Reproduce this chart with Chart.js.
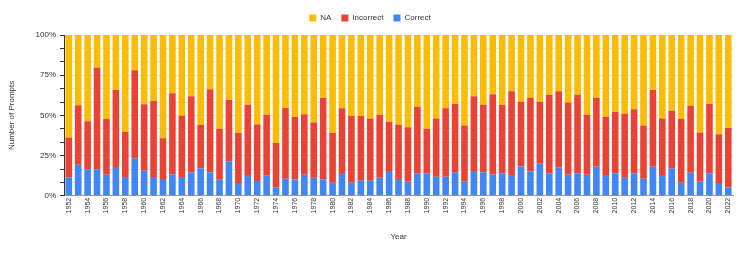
<!DOCTYPE html>
<html>
<head>
<meta charset="utf-8">
<script src="https://cdn.jsdelivr.net/npm/chart.js@4"></script>
<style>
  html, body { margin: 0; padding: 0; background: #fff; }
  #wrap { width: 747px; height: 253px; }
</style>
</head>
<body>
<div id="wrap"><canvas id="chart"></canvas></div>
<script>
// years 1952..2022
const years = [
  '1952','1953','1954','1955','1956','1957','1958','1959','1960','1961',
  '1962','1963','1964','1965','1966','1967','1968','1969','1970','1971',
  '1972','1973','1974','1975','1976','1977','1978','1979','1980','1981',
  '1982','1983','1984','1985','1986','1987','1988','1989','1990','1991',
  '1992','1993','1994','1995','1996','1997','1998','1999','2000','2001',
  '2002','2003','2004','2005','2006','2007','2008','2009','2010','2011',
  '2012','2013','2014','2015','2016','2017','2018','2019','2020','2021',
  '2022'
];

// share of prompts, in %
const correct = [
  11.5, 19.4, 16.5, 16.5, 13.1, 17.9, 11.7, 23.3, 15.6, 11.7,
  10.4, 13.3, 11.7, 14.6, 17.1, 14.6, 10.0, 21.5, 7.9, 12.9,
  9.2, 12.5, 5.2, 10.6, 10.2, 13.1, 11.3, 10.2, 8.1, 14.2,
  8.1, 9.4, 9.4, 11.3, 15.4, 10.4, 8.8, 14.0, 14.0, 11.9,
  11.9, 14.6, 8.8, 15.4, 14.6, 13.3, 14.0, 12.9, 18.3, 15.2,
  20.0, 14.0, 17.7, 13.1, 14.0, 13.1, 18.1, 12.9, 14.0, 11.3,
  14.0, 10.6, 18.1, 12.9, 17.1, 8.1, 14.4, 8.8, 14.0, 7.9,
  5.2
];

const incorrect = [
  24.8, 36.9, 29.8, 63.3, 34.6, 47.9, 28.1, 54.8, 41.3, 47.3,
  25.4, 50.5, 38.1, 47.3, 26.9, 51.7, 31.7, 38.3, 31.3, 43.8,
  35.2, 37.9, 27.7, 44.0, 38.8, 37.7, 34.3, 50.8, 31.1, 40.2,
  41.5, 40.2, 38.7, 39.1, 30.6, 33.8, 33.9, 41.2, 27.7, 36.2,
  42.5, 42.7, 35.0, 46.5, 42.1, 49.8, 42.7, 52.1, 40.2, 45.8,
  38.5, 48.9, 47.3, 45.0, 48.9, 37.3, 42.7, 36.3, 38.1, 39.7,
  39.8, 33.2, 47.7, 35.2, 35.8, 39.6, 41.6, 30.6, 43.3, 30.4,
  36.9
];

const na = [
  63.7, 43.7, 53.7, 20.2, 52.3, 34.2, 60.2, 21.9, 43.1, 41.0,
  64.2, 36.2, 50.2, 38.1, 56.0, 33.7, 58.3, 40.2, 60.8, 43.3,
  55.6, 49.6, 67.1, 45.4, 51.0, 49.2, 54.4, 39.0, 60.8, 45.6,
  50.4, 50.4, 51.9, 49.6, 54.0, 55.8, 57.3, 44.8, 58.3, 51.9,
  45.6, 42.7, 56.2, 38.1, 43.3, 36.9, 43.3, 35.0, 41.5, 39.0,
  41.5, 37.1, 35.0, 41.9, 37.1, 49.6, 39.2, 50.8, 47.9, 49.0,
  46.2, 56.2, 34.2, 51.9, 47.1, 52.3, 44.0, 60.6, 42.7, 61.7,
  57.9
];

const COLORS = {
  correct:   '#4285F4',
  incorrect: '#EA4335',
  na:        '#FBBC04',
};

const FONT = { family: '"Liberation Sans", Arial, sans-serif', size: 8 };
const XFONT = { family: FONT.family, size: 7 };

Chart.defaults.font.family = FONT.family;
Chart.defaults.font.size = 8;
Chart.defaults.color = '#333';

// a little extra room under the legend
const legendGap = {
  id: 'legendGap',
  beforeInit(chart) {
    const fit = chart.legend.fit;
    chart.legend.fit = function () {
      fit.bind(chart.legend)();
      this.height += 3;
    };
  },
};

const ctx = document.getElementById('chart').getContext('2d');

const barStyle = { barPercentage: 0.7, categoryPercentage: 1.0, borderWidth: 0 };

new Chart(ctx, {
  type: 'bar',
  data: {
    labels: years,
    datasets: [
      { label: 'Correct',   data: correct,   backgroundColor: COLORS.correct,   ...barStyle },
      { label: 'Incorrect', data: incorrect, backgroundColor: COLORS.incorrect, ...barStyle },
      { label: 'NA',        data: na,        backgroundColor: COLORS.na,        ...barStyle },
    ]
  },
  plugins: [legendGap],
  options: {
    responsive: true,
    maintainAspectRatio: false,
    animation: false,
    layout: { padding: { left: 7, right: 14, top: 4, bottom: 11 } },
    plugins: {
      legend: {
        reverse: true,
        labels: { boxWidth: 7, boxHeight: 7, padding: 10, font: FONT, color: '#333' },
      },
      tooltip: { enabled: false },
    },
    scales: {
      x: {
        stacked: true,
        grid: { drawOnChartArea: false, drawTicks: false },
        border: { color: '#999' },
        ticks: {
          autoSkip: false,
          minRotation: 90,
          maxRotation: 90,
          padding: 2,
          font: XFONT,
          color: '#333',
          callback: (val, i) => (i % 2 === 0 ? years[i] : ''),
        },
        title: { display: true, text: 'Year', font: FONT, color: '#333', padding: { top: 17, bottom: 0 } },
      },
      y: {
        stacked: true,
        min: 0,
        max: 100,
        grid: { color: '#e6e6e6', tickColor: '#333', tickLength: 4 },
        border: { color: '#333' },
        ticks: {
          stepSize: 100 / 12,
          font: FONT,
          color: '#333',
          padding: 4,
          callback: v => {
            const q = v / 25;
            return Math.abs(q - Math.round(q)) < 1e-6 ? Math.round(v) + '%' : '';
          },
        },
        title: { display: true, text: 'Number of Prompts', font: FONT, color: '#333', padding: { top: 0, bottom: 15 } },
      },
    },
  },
});
</script>
</body>
</html>
